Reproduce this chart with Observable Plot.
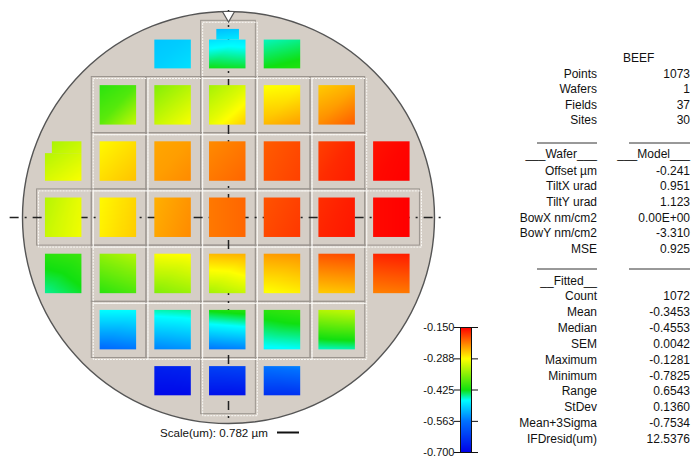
<!DOCTYPE html>
<html>
<head>
<meta charset="utf-8">
<script src="https://cdn.jsdelivr.net/npm/d3@7"></script>
<script src="https://cdn.jsdelivr.net/npm/@observablehq/plot@0.6"></script>
<style>
  html, body { margin: 0; padding: 0; background: #fff; overflow: hidden; }
  #chart { position: relative; width: 699px; height: 458px; font-family: "Liberation Sans", Arial, sans-serif; }
  #chart > * { position: absolute; }
  #wafer { left: 0; top: 0; }
  #legend { left: 410px; top: 319px; }
  #stats { left: 0; top: 0; pointer-events: none; }
  #stats text { font-family: "Liberation Sans", Arial, sans-serif; fill: #111; }
</style>
</head>
<body>
<div id="chart">
  <div id="wafer"></div>
  <div id="legend"></div>
  <svg id="stats" width="699" height="458"></svg>
</div>
<script>
// Field layout: row 0 is the top of the wafer, columns run left to right.
const fieldRow = [0, 0, 0,
  1, 1, 1, 1, 1,
  2, 2, 2, 2, 2, 2, 2,
  3, 3, 3, 3, 3, 3, 3,
  4, 4, 4, 4, 4, 4, 4,
  5, 5, 5, 5, 5,
  6, 6, 6];
const fieldCol = [2, 3, 4,
  1, 2, 3, 4, 5,
  0, 1, 2, 3, 4, 5, 6,
  0, 1, 2, 3, 4, 5, 6,
  0, 1, 2, 3, 4, 5, 6,
  1, 2, 3, 4, 5,
  2, 3, 4];
// 1 = the whole field lies on the wafer (drawn with its field outline)
const fieldInside = [0, 1, 0,
  1, 1, 1, 1, 1,
  0, 1, 1, 1, 1, 1, 0,
  1, 1, 1, 1, 1, 1, 1,
  0, 1, 1, 1, 1, 1, 0,
  1, 1, 1, 1, 1,
  0, 1, 0];

// Fitted height (µm) at the four corners of each die.
const cornerTL = [-0.510, -0.515, -0.470,
  -0.410, -0.360, -0.340, -0.290, -0.260,
  -0.340, -0.285, -0.240, -0.225, -0.200, -0.185, -0.160,
  -0.330, -0.285, -0.245, -0.215, -0.195, -0.175, -0.155,
  -0.410, -0.350, -0.290, -0.250, -0.235, -0.195, -0.170,
  -0.470, -0.455, -0.420, -0.410, -0.330,
  -0.660, -0.620, -0.560];
const cornerTR = [-0.505, -0.505, -0.460,
  -0.390, -0.330, -0.310, -0.285, -0.245,
  -0.320, -0.270, -0.235, -0.215, -0.190, -0.170, -0.152,
  -0.300, -0.265, -0.230, -0.205, -0.185, -0.165, -0.150,
  -0.400, -0.330, -0.285, -0.245, -0.230, -0.190, -0.165,
  -0.470, -0.450, -0.410, -0.400, -0.320,
  -0.655, -0.615, -0.550];
const cornerBL = [-0.500, -0.425, -0.425,
  -0.380, -0.320, -0.300, -0.250, -0.225,
  -0.310, -0.270, -0.235, -0.215, -0.195, -0.175, -0.155,
  -0.320, -0.280, -0.240, -0.215, -0.190, -0.170, -0.155,
  -0.450, -0.410, -0.360, -0.340, -0.290, -0.260, -0.220,
  -0.570, -0.550, -0.560, -0.475, -0.460,
  -0.700, -0.700, -0.670];
const cornerBR = [-0.490, -0.430, -0.415,
  -0.320, -0.290, -0.260, -0.235, -0.200,
  -0.290, -0.255, -0.225, -0.205, -0.185, -0.165, -0.150,
  -0.295, -0.260, -0.225, -0.205, -0.180, -0.162, -0.150,
  -0.430, -0.390, -0.345, -0.320, -0.280, -0.255, -0.215,
  -0.560, -0.540, -0.550, -0.470, -0.455,
  -0.700, -0.700, -0.670];

// Dies near the edge have only part of their sites measured:
// [field index, u0, u1, v0, v1] as fractions of the die (v counted from the top).
const partialDies = [
  [0, 0, 1, 0.27, 1],
  [1, 0, 1, 0.27, 1], [1, 0.20, 0.82, 0, 0.27],
  [2, 0, 1, 0.27, 1],
  [8, 0, 1, 0.30, 1], [8, 0.19, 1, 0, 0.30],
  [34, 0, 1, 0, 0.74],
  [35, 0, 1, 0, 0.74],
  [36, 0, 1, 0, 0.74]
];

// Colour bar
const legendTicks = [-0.150, -0.288, -0.425, -0.563, -0.700];
const legendTickLabels = ["-0.150", "-0.288", "-0.425", "-0.563", "-0.700"];
const colorStops = [-0.70, -0.563, -0.47, -0.425, -0.2875, -0.15];
const colorRamp = ["#0000e8", "#0070ff", "#00ffff", "#10e010", "#ffff00", "#ff0000"];

// Summary table
const lotName = "BEEF";
const summaryLabels = ["Points", "Wafers", "Fields", "Sites"];
const summaryValues = ["1073", "1", "37", "30"];
const modelLabels = ["Offset µm", "TiltX urad", "TiltY urad", "BowX nm/cm2", "BowY nm/cm2", "MSE"];
const modelValues = ["-0.241", "0.951", "1.123", "0.00E+00", "-3.310", "0.925"];
const fittedLabels = ["Count", "Mean", "Median", "SEM", "Maximum", "Minimum", "Range", "StDev", "Mean+3Sigma", "IFDresid(um)"];
const fittedValues = ["1072", "-0.3453", "-0.4553", "0.0042", "-0.1281", "-0.7825", "0.6543", "0.1360", "-0.7534", "12.5376"];
const scaleText = "Scale(um): 0.782 µm";

// ---------------------------------------------------------------------------
// Wafer geometry (mm)
const PX_PER_MM = 2.06;
const WAFER_R = 100;
const FIELD_W = 26.55, FIELD_H = 27.28;
const DIE_LEFT = -9.45, DIE_RIGHT = 8.25, DIE_TOP = 9.7, DIE_BOTTOM = -9.45;
const W = 460, H = 458;
const CX_PX = 228, CY_PX = 217;

const colorScale = {type: "linear", domain: colorStops, range: colorRamp, clamp: true};

const fields = fieldRow.map((r, i) => {
  const cx = (fieldCol[i] - 3) * FIELD_W;
  const cy = (3 - r) * FIELD_H;
  return {i, cx, cy, inside: fieldInside[i] === 1,
    x1: cx - FIELD_W / 2, x2: cx + FIELD_W / 2, y1: cy - FIELD_H / 2, y2: cy + FIELD_H / 2};
});

// every die is drawn as one or more rectangular pieces
const pieces = [];
fields.forEach(f => {
  const parts = partialDies.filter(p => p[0] === f.i);
  if (parts.length) parts.forEach(p => pieces.push(p));
  else pieces.push([f.i, 0, 1, 0, 1]);
});

const dieMarks = pieces.map(([i, u0, u1, v0, v1]) => {
  const f = fields[i];
  const L = f.cx + DIE_LEFT, R = f.cx + DIE_RIGHT, T = f.cy + DIE_TOP, B = f.cy + DIE_BOTTOM;
  const corners = [
    {x: L, y: T, v: cornerTL[i]}, {x: R, y: T, v: cornerTR[i]},
    {x: L, y: B, v: cornerBL[i]}, {x: R, y: B, v: cornerBR[i]}
  ];
  return Plot.raster(corners, {
    x: "x", y: "y", fill: "v", interpolate: "barycentric",
    x1: L + u0 * (R - L), x2: L + u1 * (R - L),
    y1: T - v0 * (T - B), y2: T - v1 * (T - B)
  });
});

const insideFields = fields.filter(f => f.inside);

const wafer = Plot.plot({
  width: W, height: H,
  marginTop: 0, marginRight: 0, marginBottom: 0, marginLeft: 0,
  x: {domain: [-CX_PX / PX_PER_MM, (W - CX_PX) / PX_PER_MM], axis: null},
  y: {domain: [-(H - CY_PX) / PX_PER_MM, CY_PX / PX_PER_MM], axis: null},
  color: colorScale,
  style: {background: "transparent"},
  marks: [
    // wafer disc
    Plot.dot([{x: 0, y: 0}], {x: "x", y: "y", r: WAFER_R * PX_PER_MM, fill: "#d5cec6", stroke: "#555", strokeWidth: 1.4}),
    // field outlines: grey line with a white dotted line beside it
    Plot.rect(insideFields, {x1: "x1", x2: "x2", y1: "y1", y2: "y2", fill: "none", stroke: "#9b958f", strokeWidth: 1}),
    Plot.rect(insideFields, {x1: "x1", x2: "x2", y1: "y1", y2: "y2", fill: "none", stroke: "#fbfaf7", strokeWidth: 1,
      strokeDasharray: "2,1", insetLeft: 2, insetRight: -2, insetTop: 2, insetBottom: -2}),
    // centre lines
    Plot.ruleY([0], {x1: -106, x2: 106, stroke: "#222", strokeWidth: 1.5, strokeDasharray: "9,6,2,6"}),
    Plot.ruleX([0], {y1: 100.5, y2: -100, stroke: "#222", strokeWidth: 1.5, strokeDasharray: "9,6,2,6"}),
    // dies
    ...dieMarks,
    // notch
    Plot.dot([{x: 0, y: 98.3}], {x: "x", y: "y", symbol: "triangle", rotate: 180, r: 4.5, fill: "#fff", stroke: "#555", strokeWidth: 1.2})
  ]
});
document.getElementById("wafer").append(wafer);

const legend = Plot.plot({
  width: 80, height: 141,
  marginLeft: 50, marginRight: 19, marginTop: 8, marginBottom: 8,
  x: {domain: [0, 1], axis: null},
  y: {domain: [-0.70, -0.15], axis: null},
  color: colorScale,
  style: {background: "transparent", fontFamily: "Liberation Sans, Arial, sans-serif", fontSize: "11px", color: "#111", overflow: "visible"},
  marks: [
    Plot.raster({fill: (x, y) => y, x1: 0, x2: 1, y1: -0.70, y2: -0.15}),
    Plot.frame({stroke: "#111"}),
    Plot.axisY(legendTicks, {anchor: "left", tickSize: 6, tickPadding: 0, label: null, stroke: "#111",
      tickFormat: d => legendTickLabels[legendTicks.indexOf(d)]}),
    Plot.axisY(legendTicks, {anchor: "right", tickSize: 6, label: null, stroke: "#111", tickFormat: () => ""})
  ]
});
document.getElementById("legend").append(legend);

// Summary table on the right
const stats = d3.select("#stats");
function put(text, x, y, anchor, size = 12) {
  stats.append("text").attr("x", x).attr("y", y).attr("text-anchor", anchor)
    .attr("font-size", size).text(text);
}
function overline(y) {
  stats.append("line").attr("x1", 537).attr("x2", 597).attr("y1", y).attr("y2", y).attr("stroke", "#333");
  stats.append("line").attr("x1", 629).attr("x2", 690).attr("y1", y).attr("y2", y).attr("stroke", "#333");
}
const LABEL_X = 597, VALUE_X = 690;
put(lotName, 623, 62, "start");
summaryLabels.forEach((t, i) => {
  put(t, LABEL_X, 77.5 + i * 15.6, "end");
  put(summaryValues[i], VALUE_X, 77.5 + i * 15.6, "end");
});
overline(143);
put("___Wafer___", LABEL_X, 158, "end");
put("___Model___", VALUE_X, 158, "end");
modelLabels.forEach((t, i) => {
  put(t, LABEL_X, 174.5 + i * 15.7, "end");
  put(modelValues[i], VALUE_X, 174.5 + i * 15.7, "end");
});
overline(269);
put("__Fitted__", LABEL_X, 285, "end");
fittedLabels.forEach((t, i) => {
  put(t, LABEL_X, 300 + i * 15.9, "end");
  put(fittedValues[i], VALUE_X, 300 + i * 15.9, "end");
});

// scale caption under the wafer
put(scaleText, 160, 437, "start", 11.6);
stats.append("line").attr("x1", 277).attr("x2", 299).attr("y1", 432.5).attr("y2", 432.5)
  .attr("stroke", "#111").attr("stroke-width", 2);
</script>
</body>
</html>
